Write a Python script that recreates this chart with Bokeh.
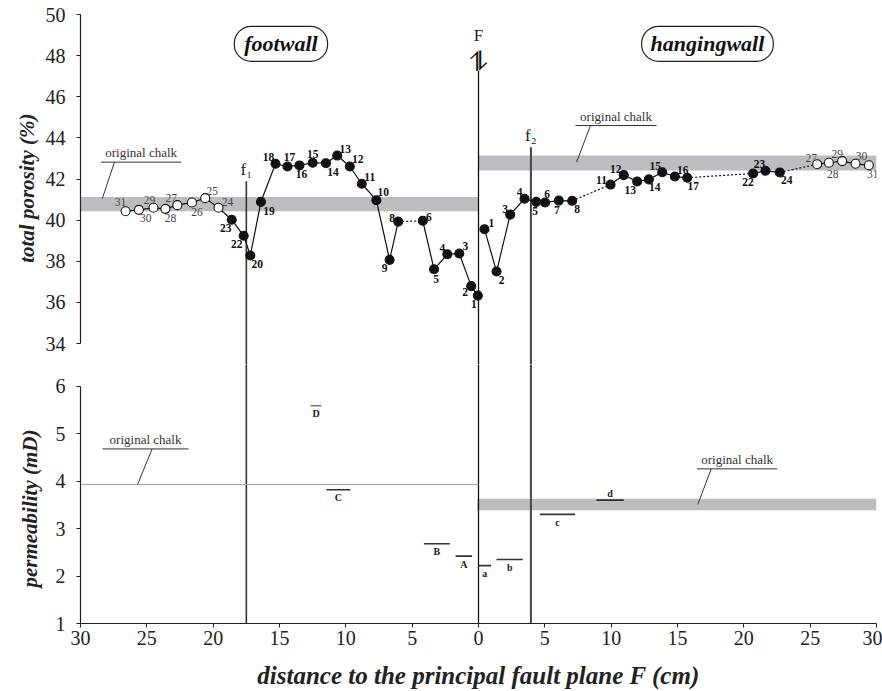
import numpy as np
from bokeh.plotting import figure
from bokeh.layouts import column
from bokeh.models import Range1d, FixedTicker, Label, Title
from bokeh.core.properties import value
from bokeh.embed import file_html
from bokeh.resources import INLINE

SERIF = "Liberation Serif"

# ---------------- data ----------------
# footwall porosity (signed distance: footwall plotted to the left of F)
fw_num = [31, 30, 29, 28, 27, 26, 25, 24, 23, 22, 20, 19, 18, 17, 16, 15, 14, 13, 12, 11, 10, 9, 8, 6, 5, 4, 3, 2, 1]
fw_x = [-26.6, -25.6, -24.5, -23.6, -22.7, -21.6, -20.6, -19.6, -18.6, -17.7, -17.2, -16.4, -15.3, -14.4, -13.5,
        -12.5, -11.5, -10.65, -9.7, -8.8, -7.7, -6.7, -6.05, -4.2, -3.35, -2.35, -1.45, -0.55, -0.05]
fw_y = [40.43, 40.50, 40.60, 40.55, 40.73, 40.86, 41.07, 40.60, 40.02, 39.24, 38.28, 40.89, 42.74, 42.61, 42.66,
        42.79, 42.77, 43.14, 42.61, 41.77, 40.97, 38.07, 39.93, 39.97, 37.61, 38.34, 38.38, 36.79, 36.33]
fw_open = [31, 30, 29, 28, 27, 26, 25, 24]
fw_solid_runs = [[31, 30, 29, 28, 27, 26, 25, 24, 23, 22, 20, 19, 18, 17, 16, 15, 14, 13, 12, 11, 10, 9, 8],
                 [6, 5, 4, 3, 2, 1]]
fw_dashed = [(8, 6)]

# hangingwall porosity
hw_num = [1, 2, 3, 4, 5, 6, 7, 8, 11, 12, 13, 14, 15, 16, 17, 22, 23, 24, 27, 28, 29, 30, 31]
hw_x = [0.45, 1.36, 2.39, 3.47, 4.35, 5.02, 6.05, 7.06, 9.95, 10.95, 11.96, 12.84, 13.85, 14.80, 15.73,
        20.70, 21.63, 22.71, 25.53, 26.41, 27.41, 28.42, 29.42]
hw_y = [39.56, 37.50, 40.27, 41.04, 40.89, 40.86, 40.95, 40.94, 41.73, 42.19, 41.88, 41.98, 42.33, 42.12, 42.06,
        42.27, 42.40, 42.32, 42.72, 42.79, 42.87, 42.74, 42.67]
hw_open = [27, 28, 29, 30, 31]
hw_solid_runs = [[1, 2, 3, 4, 5, 6, 7, 8], [11, 12, 13, 14, 15, 16, 17], [22, 23, 24], [27, 28, 29, 30, 31]]
hw_dashed = [(8, 11), (17, 22), (24, 27)]

# original chalk porosity bands
band_x0 = [-30.0, 0.0]
band_x1 = [0.0, 30.0]
band_lo = [40.43, 42.41]
band_hi = [41.12, 43.14]

# permeability samples
perm_lbl = ["D", "C", "B", "A", "a", "b", "c", "d"]
perm_x0 = [-12.66, -11.46, -4.12, -1.73, 0.0, 1.36, 4.62, 8.89]
perm_x1 = [-11.83, -9.65, -2.16, -0.48, 0.95, 3.34, 7.29, 10.95]
perm_val = [5.59, 3.82, 2.68, 2.42, 2.22, 2.35, 3.30, 3.60]
perm_chalk_fw = 3.93
perm_chalk_hw = (3.39, 3.63)

# fault planes
fault_name = ["f1", "F", "f2"]
fault_x = [-17.5, 0.0, 3.95]

x_ticks = [-30, -25, -20, -15, -10, -5, 0, 5, 10, 15, 20, 25, 30]
por_ticks = [34, 36, 38, 40, 42, 44, 46, 48, 50]
perm_ticks = [1, 2, 3, 4, 5, 6]

# ---------------- label placement (screen px, dy down) ----------------
fw_off = {31: (-5, -9), 30: (7, 8), 29: (-4, -8), 28: (5, 9), 27: (-6, -7), 26: (5, 10), 25: (7, -7),
          24: (9, -6), 23: (-6, 8), 22: (-7, 8), 20: (7, 8), 19: (8, 9), 18: (-7, -7), 17: (2, -9),
          16: (2, 9), 15: (0, -9), 14: (7, 9), 13: (8, -7), 12: (8, -7), 11: (8, -7), 10: (7, -8),
          9: (-5, 8), 8: (-6, -4), 6: (6, -4), 5: (2, 10), 4: (-5, -6), 3: (6, -7), 2: (-6, 6), 1: (-4, 8)}
hw_off = {1: (7, -6), 2: (5, 8), 3: (-5, -6), 4: (-5, -7), 5: (-1, 9), 6: (2, -8), 7: (-2, 9), 8: (5, 8),
          11: (-9, -5), 12: (-8, -6), 13: (-7, 9), 14: (6, 8), 15: (-7, -6), 16: (8, -7), 17: (6, 8),
          22: (-5, 9), 23: (-6, -7), 24: (7, 8), 27: (-6, -6), 28: (4, 11), 29: (-5, -7), 30: (6, -8), 31: (4, 9)}

# ---------------- figures ----------------
x_range = Range1d(-30, 30)
P1_LO, P2_HI = 32.98, 6.46

p1 = figure(width=882, height=364, x_range=x_range, y_range=Range1d(P1_LO, 50), title=None,
            output_backend="svg", toolbar_location=None, x_axis_location=None,
            min_border_left=80, min_border_right=6, min_border_top=14, min_border_bottom=0)
p2 = figure(width=882, height=327, x_range=x_range, y_range=Range1d(1, P2_HI), title=None,
            output_backend="svg", toolbar_location=None,
            min_border_left=80, min_border_right=6, min_border_top=0, min_border_bottom=66)

for p in (p1, p2):
    p.outline_line_color = None
    p.xgrid.visible = False
    p.ygrid.visible = False
    p.background_fill_color = "white"
    p.border_fill_color = "white"
    for ax in p.yaxis + p.xaxis:
        ax.axis_line_color = "#222"
        ax.axis_line_width = 1.2
        ax.major_tick_line_color = "#222"
        ax.major_tick_out = 4
        ax.major_tick_in = 0
        ax.minor_tick_line_color = None
        ax.major_label_text_font = SERIF
        ax.major_label_text_font_size = "20px"
        ax.major_label_text_color = "#222"
        ax.major_label_standoff = 11

p1.yaxis.ticker = FixedTicker(ticks=por_ticks)
p1.yaxis.bounds = (34, 50)
p2.yaxis.ticker = FixedTicker(ticks=perm_ticks)
p2.yaxis.bounds = (1, 6)
p2.xaxis.ticker = FixedTicker(ticks=x_ticks)
p2.xaxis.major_label_standoff = 3
p2.xaxis.major_label_overrides = {t: str(abs(t)) for t in x_ticks}
p2.xaxis.axis_label = "distance to the principal fault plane F (cm)"
p2.xaxis.axis_label_text_font = SERIF
p2.xaxis.axis_label_text_font_style = "bold italic"
p2.xaxis.axis_label_text_font_size = "25px"
p2.xaxis.axis_label_text_color = "#222"
p2.xaxis.axis_label_standoff = 14

# y axis titles as side-panel titles
p1.add_layout(Title(text="total porosity (%)", align="right", offset=99, vertical_align="middle",
                    standoff=5, text_font=SERIF, text_font_style="bold italic", text_font_size="21px",
                    text_color="#222"), "left")
p2.add_layout(Title(text="permeability (mD)", align="right", offset=65, vertical_align="middle",
                    standoff=20, text_font=SERIF, text_font_style="bold italic", text_font_size="21px",
                    text_color="#222"), "left")

# ---------------- top panel ----------------
p1.quad(left=band_x0, right=band_x1, bottom=band_lo, top=band_hi, fill_color="#bdbdc1", line_color=None)

fault_top = {"f1": 41.89, "F": 47.25, "f2": 43.55}
fault_col = {"f1": "#333", "F": "#111", "f2": "#444"}
fault_w = {"f1": 1.6, "F": 1.3, "f2": 2.0}
for n, fx in zip(fault_name, fault_x):
    p1.segment(x0=[fx], y0=[P1_LO - 5], x1=[fx], y1=[fault_top[n]], line_color=fault_col[n], line_width=fault_w[n])
    p2.segment(x0=[fx], y0=[0], x1=[fx], y1=[P2_HI + 1], line_color=fault_col[n], line_width=fault_w[n])

p1.text(x=[fault_x[0]], y=[fault_top["f1"]], text=["f\u2081"], text_font=value(SERIF), text_font_size="17px",
        text_align="center", text_baseline="bottom", y_offset=-2, text_color="#222")
p1.text(x=[fault_x[2]], y=[fault_top["f2"]], text=["f\u2082"], text_font=value(SERIF), text_font_size="17px",
        text_align="center", text_baseline="bottom", y_offset=-2, text_color="#222")
p1.text(x=[0], y=[48.98], text=["F"], text_font=value(SERIF), text_font_size="17px",
        text_align="center", text_baseline="middle", text_color="#222")
p1.text(x=[0], y=[47.71], text=["\u296E"], text_font=value("DejaVu Sans"), text_font_size="27px",
        text_align="center", text_baseline="middle", text_color="#111")


def draw_side(nums, xs, ys, open_nums, runs, dashed, offsets):
    lut = {n: (x, y) for n, x, y in zip(nums, xs, ys)}
    p1.multi_line(xs=[[lut[n][0] for n in r] for r in runs], ys=[[lut[n][1] for n in r] for r in runs],
                  line_color="#111", line_width=1.2)
    p1.multi_line(xs=[[lut[a][0], lut[b][0]] for a, b in dashed], ys=[[lut[a][1], lut[b][1]] for a, b in dashed],
                  line_color="#111", line_width=1.2, line_dash="2 2")
    fill = ["white" if n in open_nums else "#111" for n in nums]
    p1.scatter(x=xs, y=ys, size=9, fill_color=fill, line_color="#111", line_width=1.1)
    for is_open in (False, True):
        sel = [i for i, n in enumerate(nums) if (n in open_nums) == is_open]
        p1.text(x=[xs[i] for i in sel], y=[ys[i] for i in sel], text=[str(nums[i]) for i in sel],
                x_offset=[offsets[nums[i]][0] for i in sel], y_offset=[offsets[nums[i]][1] for i in sel],
                text_font=value(SERIF), text_font_size="11.5px",
                text_font_style="normal" if is_open else "bold",
                text_color="#444" if is_open else "#111",
                text_align="center", text_baseline="middle")


draw_side(fw_num, fw_x, fw_y, fw_open, fw_solid_runs, fw_dashed, fw_off)
draw_side(hw_num, hw_x, hw_y, hw_open, hw_solid_runs, hw_dashed, hw_off)


def chalk_note(p, ux0, ux1, uy, lx0, ly0, lx1, ly1):
    p.text(x=[(ux0 + ux1) / 2], y=[uy], text=["original chalk"], text_font=value(SERIF),
           text_font_size="13px", text_align="center", text_baseline="bottom", y_offset=-2, text_color="#333")
    p.segment(x0=[ux0], y0=[uy], x1=[ux1], y1=[uy], line_color="#333", line_width=1)
    p.segment(x0=[lx0], y0=[ly0], x1=[lx1], y1=[ly1], line_color="#333", line_width=1)


chalk_note(p1, -28.44, -22.41, 42.82, -27.44, 42.82, -28.36, 41.04)
chalk_note(p1, 7.31, 13.42, 44.60, 8.44, 44.60, 7.39, 42.82)

# footwall / hangingwall tags
for tx, txt, pad in ((-14.89, "footwall", 10), (17.26, "hangingwall", 9)):
    p1.add_layout(Label(x=tx, y=48.57, text=txt, text_font=SERIF, text_font_style="bold italic",
                        text_font_size="22px", text_align="center", text_baseline="middle", text_color="#111",
                        border_line_color="#222", border_line_width=1.2, border_radius=17,
                        background_fill_color="white", padding=(pad, 5)))

# ---------------- bottom panel ----------------
p2.segment(x0=[-30], y0=[perm_chalk_fw], x1=[0], y1=[perm_chalk_fw], line_color="#aaaaaa", line_width=1.2)
p2.quad(left=[0], right=[30], bottom=[perm_chalk_hw[0]], top=[perm_chalk_hw[1]], fill_color="#bdbdc1",
        line_color=None)
for n, fx in zip(fault_name, fault_x):
    if fx >= 0:
        p2.segment(x0=[fx], y0=[perm_chalk_hw[0]], x1=[fx], y1=[perm_chalk_hw[1]], line_color=fault_col[n],
                   line_width=fault_w[n])

perm_col = ["#777" if l == "D" else "#333" for l in perm_lbl]
p2.segment(x0=perm_x0, y0=perm_val, x1=perm_x1, y1=perm_val, line_color=perm_col, line_width=1.6)
perm_dy = [-7 if l == "d" else 8 for l in perm_lbl]
p2.text(x=[(a + b) / 2 for a, b in zip(perm_x0, perm_x1)], y=perm_val, text=perm_lbl, y_offset=perm_dy,
        text_font=value(SERIF), text_font_size="10px", text_font_style="bold", text_color="#222",
        text_align="center", text_baseline="middle")

chalk_note(p2, -28.34, -21.86, 4.68, -24.6, 4.68, -25.7, perm_chalk_fw)
chalk_note(p2, 16.48, 22.51, 4.26, 17.54, 4.26, 16.53, 3.51)

layout = column(p1, p2, spacing=0)
open("out.html", "w").write(file_html(layout, INLINE))
